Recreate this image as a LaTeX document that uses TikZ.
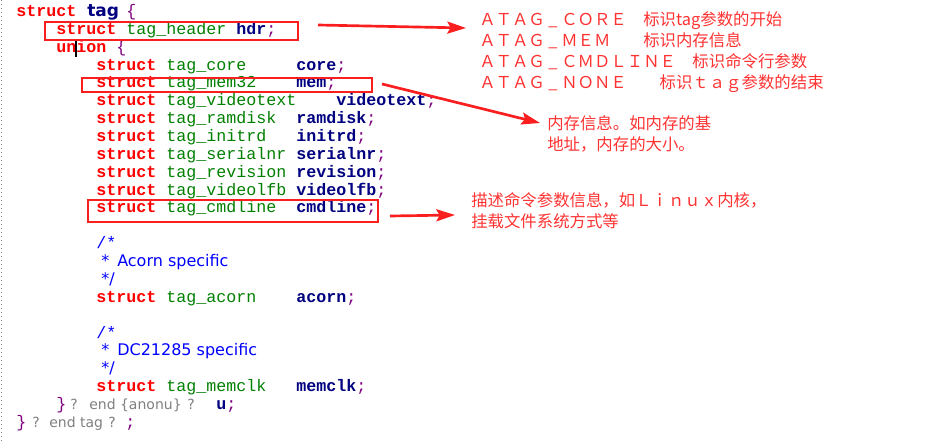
\documentclass[tikz,border=0pt]{standalone}
\usepackage{fontspec}
\setmonofont{Liberation Mono}
\newfontfamily\cjk{Noto Sans CJK SC}
\newfontfamily\cmtfont{DejaVu Sans}
\usetikzlibrary{arrows.meta,fit}
\definecolor{kwred}{RGB}{255,0,0}
\definecolor{tygreen}{RGB}{0,128,0}
\definecolor{idnavy}{RGB}{0,0,128}
\definecolor{pupurple}{RGB}{128,0,128}
\definecolor{cmblue}{RGB}{0,0,255}
\definecolor{grgray}{RGB}{128,128,128}
\definecolor{boxred}{RGB}{250,30,30}
\definecolor{notered}{RGB}{255,50,50}
\newdimen\px \px=0.75pt
\newcommand\seg[2]{\makebox[\dimexpr\px*(#1)\relax][l]{#2}}
\newcommand\kw[1]{\textcolor{kwred}{\bfseries#1}}
\newcommand\ty[1]{\textcolor{tygreen}{#1}}
\newcommand\id[1]{\textcolor{idnavy}{\bfseries#1}}
\newcommand\pu[1]{\textcolor{pupurple}{#1}}
\newcommand\gr[1]{\textcolor{grgray}{\cmtfont\fontsize{10.5pt}{13.5pt}\selectfont#1}}
\newcommand\ul{\makebox[1em]{\_}}
\newcommand\member[3][200]{\seg{70}{\kw{struct}}\seg{#1-70}{\ty{#2}}\id{#3}\pu{;}}
\tikzset{
  code/.style={anchor=base west,inner sep=0pt,font=\ttfamily\fontsize{12.5pt}{13.5pt}\selectfont},
  cmt/.style={anchor=base west,inner sep=0pt,text=cmblue,font=\cmtfont\fontsize{12pt}{13.5pt}\selectfont},
  note/.style={anchor=base west,inner sep=0pt,align=left,text=notered,font=\cjk\fontsize{12.3pt}{15.75pt}\selectfont},
  redbox/.style={draw=boxred,line width=1.5pt,inner sep=0pt},
  redarrow/.style={draw=boxred,line width=2pt,-{Stealth[length=14pt,width=9pt,inset=2.5pt]}}
}
\begin{document}
\begin{tikzpicture}[x=0.75pt,y=-0.75pt]
	\fill[white] (0,0) rectangle (933,442);
	\useasboundingbox (0,0) rectangle (933,442);
	\draw[grgray,dotted,line width=1pt] (1.5,0)--(1.5,442);
	% code
	\node[code] (tagline) at (16,16.4) {\seg{71}{\kw{struct}}\seg{39}{\textcolor{idnavy}{\cmtfont\bfseries\fontsize{12.75pt}{14pt}\selectfont tag}}\pu{\{}};
	\node[code] (hdr) at (56,34.3) {\seg{70}{\kw{struct}}\seg{110}{\ty{tag\_header}}\id{hdr}\pu{;}};
	\node[code] (union) at (56,52.1) {\seg{60}{\kw{union}}\pu{\{}};
	\draw[line width=1.2pt] (76,40)--(76,57);
	\foreach \t/\n/\c [count=\i from 3] in {core/core/200, mem32/mem/200, videotext/videotext/240, ramdisk/ramdisk/200, initrd/initrd/200, serialnr/serialnr/200, revision/revision/200, videolfb/videolfb/200, cmdline/cmdline/200}
		\node[code] (m\i) at (96,{16.4+17.87*\i}) {\member[\c]{tag\_\t}{\n}};
	\node[code,text=cmblue] (c1a) at (96,248.7) {/*};
	\node[cmt] (c1b) at (101,266.6) {\seg{16}{*}Acorn specific};
	\node[cmt] (c1c) at (101,284.5) {*/};
	\node[code] (acorn) at (96,302.3) {\member{tag\_acorn}{acorn}};
	\node[code,text=cmblue] (c2a) at (96,338.1) {/*};
	\node[cmt] (c2b) at (101,355.9) {\seg{16}{*}DC21285 specific};
	\node[cmt] (c2c) at (101,373.8) {*/};
	\node[code] (memclk) at (96,391.7) {\member{tag\_memclk}{memclk}};
	\node[code] (endu) at (56,409.5) {\seg{14}{\pu{\}}}\seg{19}{\gr{?}}\seg{98}{\gr{end \{anonu\}}}\seg{29}{\gr{?}}\id{u}\pu{;}};
	\node[code] (endtag) at (16,427.4) {\seg{16}{\pu{\}}}\seg{17}{\gr{?}}\seg{59}{\gr{end tag}}\seg{17}{\gr{?}}\pu{;}};
	% boxes
	\node[redbox,fit={(45,22) (298,40)}] (hdrbox) {};
	\node[redbox,fit={(82,78) (372,92)}] (membox) {};
	\node[redbox,fit={(88,200) (378,222)}] (cmdbox) {};
	% notes
	\node[note] (ncore) at (479,26) {ＡＴＡＧ\ul{}ＣＯＲＥ　标识tag参数的开始};
	\node[note] (nmem) at (479,47) {ＡＴＡＧ\ul{}ＭＥＭ　　标识内存信息};
	\node[note] (ncmd) at (479,68) {ＡＴＡＧ\ul{}ＣＭＤＬＩＮＥ　标识命令行参数};
	\node[note] (nnone) at (479,89) {ＡＴＡＧ\ul{}ＮＯＮＥ　　标识ｔａｇ参数的结束};
	\node[note] (memnote) at (547,151) {内存信息。如内存的基\\地址，内存的大小。};
	\node[note] (cmdnote) at (471,228) {描述命令参数信息，如Ｌｉｎｕｘ内核，\\挂载文件系统方式等};
	% arrows
	\draw[redarrow] ([shift={(19,-6)}]hdrbox.east)--([shift={(-13,2)}]ncore.base west);
	\draw[redarrow] ([shift={(9,-1)}]membox.east)--([shift={(-7,-28)}]memnote.base west);
	\draw[redarrow] ([shift={(11,5)}]cmdbox.east)--([shift={(-16,-13)}]cmdnote.base west);
\end{tikzpicture}
\end{document}
